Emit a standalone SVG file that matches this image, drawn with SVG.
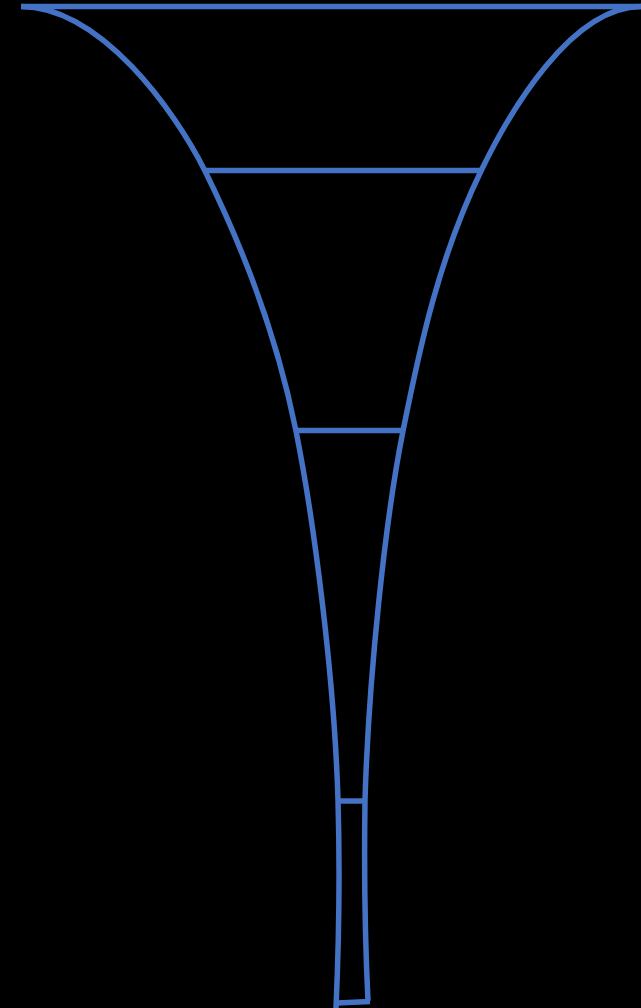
<svg xmlns="http://www.w3.org/2000/svg" width="641" height="1008" viewBox="0 0 641 1008">
  <style>
    .s { fill: none; stroke: #4472C4; stroke-width: 5.5; stroke-linejoin: miter; }
  </style>
  <rect x="0" y="0" width="641" height="1008" fill="#000000"/>
  <g id="funnel">
    <path id="top-rim" class="s" d="M21,6.5 L641,6.5"/>
    <path id="left-wall" class="s" d="M21,6.5 C101,7 175,111 205,171 C248,258 278.6,344 296,431 C314,521 334.3,677 338,800 C340,870 339,940 336,1008"/>
    <path id="right-wall" class="s" d="M641,6.5 C571,7 510,111 481,171 C439,258 420.4,344 403,431 C385,521 368.7,677 365,800 C364,870 365,940 368,1001"/>
    <path id="bottom" class="s" d="M337,1003 L370,1001.5"/>
  </g>
  <g id="dividers">
    <path class="s" d="M203,170.5 L481,170.5"/>
    <path class="s" d="M298,430.5 L404,430.5"/>
    <path class="s" d="M338,801 L366,801"/>
  </g>
</svg>
